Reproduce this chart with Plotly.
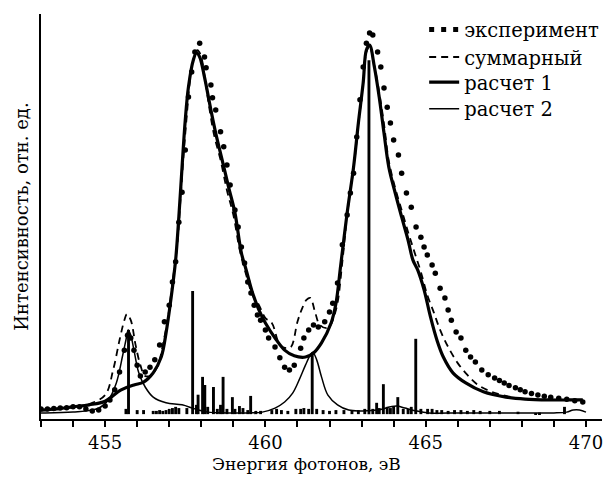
import plotly.graph_objects as go

# ---------------- data (photon energy, eV / intensity, arb. units) ----------------
exp_x = [453.0, 453.2, 453.4, 453.6, 453.8, 454.0, 454.2, 454.4, 454.6, 454.8,
         455.0, 455.15, 455.3, 455.45, 455.6, 455.7, 455.8, 455.9, 456.0, 456.1,
         456.25, 456.4, 456.55, 456.7, 456.85, 457.0, 457.1, 457.2, 457.3, 457.4,
         457.5, 457.6, 457.7, 457.8, 457.95, 458.1, 458.15, 458.3, 458.35, 458.45,
         458.6, 458.7, 458.8, 458.9, 459.05, 459.15, 459.25, 459.35, 459.45, 459.55,
         459.65, 459.75, 459.85, 460.0, 460.1, 460.3, 460.45, 460.6, 460.75, 460.9,
         461.1, 461.2, 461.35, 461.5, 461.65, 461.85, 462.0, 462.1, 462.25, 462.4,
         462.55, 462.65, 462.75, 462.85, 462.95, 463.05, 463.15, 463.25, 463.35, 463.5,
         463.6, 463.7, 463.8, 463.9, 464.0, 464.15, 464.25, 464.4, 464.55, 464.7,
         464.85, 464.95, 465.05, 465.2, 465.3, 465.45, 465.6, 465.7, 465.8, 465.95,
         466.1, 466.25, 466.4, 466.55, 466.75, 466.95, 467.15, 467.3, 467.45, 467.6,
         467.8, 467.95, 468.1, 468.3, 468.5, 468.7, 468.9, 469.15, 469.4, 469.65, 469.9]
exp_y = [2.5, 2.5, 2.6, 2.7, 2.8, 3.0, 3.0, 2.5, 2.0, 2.2,
         3.2, 4.7, 7.2, 11.6, 17.0, 20.7, 20.0, 17.0, 13.3, 10.6,
         11.6, 12.8, 14.6, 18.3, 24.0, 28.1, 33.8, 38.8, 48.6, 56.0,
         66.4, 79.5, 85.7, 90.6, 92.8, 89.4, 86.7, 82.5, 79.3, 76.3,
         70.9, 67.2, 62.7, 57.8, 51.6, 47.4, 42.5, 38.5, 33.8, 31.1,
         28.1, 25.7, 24.4, 22.0, 20.0, 17.8, 15.1, 12.8, 12.1, 13.3,
         17.5, 20.0, 22.0, 23.2, 22.7, 24.0, 26.4, 28.6, 33.6, 43.0,
         50.4, 55.8, 60.7, 69.6, 78.8, 86.9, 92.8, 95.3, 94.8, 90.6,
         86.9, 81.7, 77.0, 73.1, 68.9, 65.2, 60.7, 55.8, 52.3, 47.4,
         44.9, 42.5, 40.5, 38.0, 36.0, 32.3, 29.9, 26.9, 24.4, 21.5,
         20.0, 17.0, 15.3, 14.1, 12.1, 10.9, 10.1, 9.5, 8.9, 8.3,
         7.7, 7.2, 6.7, 6.3, 5.9, 5.6, 5.4, 5.1, 4.9, 4.5, 4.2]

sum_x = [453.0, 453.5, 454.0, 454.5, 455.0, 455.25, 455.45, 455.6, 455.68, 455.8,
         455.95, 456.1, 456.25, 456.45, 456.65, 456.8, 456.95, 457.1, 457.25, 457.35,
         457.45, 457.55, 457.65, 457.78, 457.88, 457.98, 458.1, 458.25, 458.4, 458.6,
         458.8, 459.0, 459.2, 459.4, 459.6, 459.8, 460.0, 460.2, 460.45, 460.65,
         460.8, 461.0, 461.15, 461.28, 461.4, 461.55, 461.7, 461.95, 462.2, 462.4,
         462.55, 462.75, 462.9, 463.05, 463.15, 463.25, 463.4, 463.55, 463.7, 463.85,
         464.05, 464.25, 464.45, 464.65, 464.85, 465.05, 465.25, 465.45, 465.7, 466.0,
         466.3, 466.6, 467.0, 467.5, 468.1, 468.85, 469.5, 469.9]
sum_y = [2.2, 2.5, 3.0, 3.7, 5.9, 12.1, 19.5, 24.4, 25.9, 24.4,
         18.3, 13.3, 10.6, 10.9, 13.3, 18.3, 24.4, 33.6, 43.0, 54.1,
         65.4, 75.1, 83.7, 89.4, 91.1, 89.9, 84.9, 76.8, 70.1, 64.0,
         56.5, 50.4, 41.7, 35.6, 30.6, 28.1, 24.9, 23.7, 18.3, 17.5,
         17.8, 24.0, 27.4, 29.4, 29.9, 26.4, 23.2, 22.5, 26.9, 38.8,
         50.4, 61.9, 72.6, 83.0, 90.6, 92.1, 87.2, 80.7, 72.8, 63.7,
         57.0, 51.6, 46.2, 41.2, 36.3, 30.6, 26.4, 22.0, 17.8, 13.8,
         10.9, 8.6, 6.9, 5.7, 4.9, 4.7, 4.7, 4.7]

calc1_x = [453.0, 453.5, 454.0, 454.5, 455.0, 455.5, 455.9, 456.2, 456.5, 456.75,
           456.9, 457.05, 457.2, 457.3, 457.4, 457.5, 457.6, 457.75, 457.85, 457.95,
           458.1, 458.3, 458.45, 458.65, 458.85, 459.05, 459.25, 459.4, 459.6, 459.8,
           460.0, 460.3, 460.6, 460.9, 461.25, 461.5, 461.75, 462.05, 462.2, 462.35,
           462.55, 462.75, 462.9, 463.05, 463.15, 463.25, 463.4, 463.55, 463.7, 463.85,
           464.05, 464.25, 464.45, 464.6, 464.75, 464.95, 465.15, 465.35, 465.55, 465.85,
           466.25, 466.8, 467.5, 468.1, 468.85, 469.5, 469.9]
calc1_y = [2.2, 2.5, 3.0, 3.5, 4.4, 7.2, 8.4, 9.1, 11.4, 15.3,
           21.2, 29.4, 39.3, 49.9, 62.2, 73.8, 82.0, 88.6, 90.4, 89.4,
           84.4, 76.3, 70.6, 64.0, 57.3, 50.9, 41.0, 36.8, 31.1, 26.9,
           23.7, 20.0, 17.0, 15.6, 15.3, 16.3, 18.8, 23.7, 28.5, 38.0,
           50.9, 62.2, 73.1, 83.0, 91.1, 92.3, 86.9, 79.5, 70.6, 62.2,
           55.8, 49.9, 44.2, 39.3, 36.8, 31.9, 25.2, 19.5, 15.3, 11.4,
           8.9, 6.7, 5.4, 4.9, 4.7, 4.7, 4.7]

calc2_x = [453.0, 454.0, 454.8, 455.1, 455.35, 455.55, 455.65, 455.72, 455.8, 455.9,
           456.05, 456.25, 456.5, 456.9, 457.4, 457.8, 458.2, 458.8, 459.4, 459.9,
           460.3, 460.6, 460.85, 461.05, 461.25, 461.4, 461.48, 461.6, 461.75, 461.95,
           462.25, 462.6, 463.0, 463.5, 463.9, 464.1, 464.35, 464.7, 465.1, 466.0,
           467.0, 468.0, 469.0, 469.4, 469.6, 469.8, 470.0]
calc2_y = [1.5, 1.7, 2.7, 4.7, 8.9, 15.8, 19.5, 22.0, 20.7, 17.0,
           11.4, 7.9, 5.4, 4.0, 3.5, 2.5, 1.7, 1.5, 1.5, 1.7,
           2.7, 4.2, 6.4, 9.6, 13.3, 15.8, 16.5, 14.6, 10.4, 5.9,
           3.5, 2.2, 2.0, 2.2, 3.0, 3.2, 2.7, 2.0, 1.5, 1.5,
           1.5, 1.5, 1.5, 1.7, 2.2, 2.2, 1.7]

# calculated transition lines (stick spectrum): position and top level
STICK_BASE = 1.2
stick_x = [455.73, 457.73, 458.04, 458.11, 458.38, 458.68, 458.97, 459.19, 459.54, 461.46,
           463.23, 463.47, 463.68, 464.13, 464.69, 465.06,
           455.65, 456.0, 456.2, 456.5, 456.6, 456.7, 456.8, 456.9, 457.0, 457.1,
           457.2, 457.3, 457.55, 457.85, 457.9, 458.2, 458.5, 458.6, 458.8, 459.05,
           459.3, 459.45, 459.7, 459.85, 460.2, 460.35, 460.5, 460.7, 460.95, 461.1,
           461.2, 461.35, 461.6, 461.8, 462.0, 462.2, 462.45, 462.7, 462.9, 463.1,
           463.35, 463.55, 463.8, 463.9, 464.0, 464.3, 464.45, 464.55, 464.85, 465.2,
           465.35, 465.5, 465.7, 465.9, 466.1, 466.3, 466.5, 466.7, 467.0, 467.3,
           467.88, 468.43, 468.55, 469.33]
stick_top = [22.0, 31.6, 10.4, 8.4, 7.9, 10.4, 5.4, 3.2, 5.7, 16.3,
             88.6, 4.0, 8.6, 5.4, 19.8, 2.5,
             2.5, 2.2, 2.2, 2.0, 2.0, 2.2, 2.0, 2.2, 2.5, 2.7,
             3.0, 2.7, 2.7, 3.5, 6.0, 3.0, 2.5, 3.5, 2.5, 2.5,
             2.7, 2.2, 2.0, 2.0, 2.2, 2.5, 2.2, 2.0, 2.5, 2.5,
             2.7, 2.5, 2.5, 2.2, 2.0, 2.2, 2.2, 2.0, 2.2, 2.5,
             2.5, 2.7, 3.0, 2.7, 3.0, 2.5, 2.5, 3.0, 2.5, 2.5,
             2.2, 2.2, 2.0, 2.2, 2.2, 2.0, 2.2, 2.0, 2.0, 2.0,
             1.8, 1.5, 1.6, 3.0]

x_tickvals = [455, 460, 465, 470]
names = ["эксперимент", "суммарный", "расчет 1", "расчет 2"]
x_title = "Энергия фотонов, эВ"
y_title = "Интенсивность, отн. ед."

# ---------------- figure ----------------
FONT = "DejaVu Serif"
FS = 18
FS_LEG = 19.5
FS_XT = 17
fig = go.Figure()

fig.add_trace(go.Bar(
    x=stick_x, y=[t - STICK_BASE for t in stick_top], base=STICK_BASE,
    width=0.09, marker=dict(color="black", line=dict(width=0)),
    showlegend=False, hoverinfo="skip"))

fig.add_trace(go.Scatter(
    x=exp_x, y=exp_y, mode="markers",
    marker=dict(color="black", size=5.5), showlegend=False))
# legend sample for the experiment (dotted)
fig.add_trace(go.Scatter(
    x=[None], y=[None], mode="lines", name=names[0], legend="legend",
    line=dict(color="black", width=5, dash="5px,7px")))

fig.add_trace(go.Scatter(
    x=sum_x, y=sum_y, mode="lines", name=names[1], line_shape="spline",
    legend="legend2", line=dict(color="black", width=1.8, dash="7px,5px")))
fig.add_trace(go.Scatter(
    x=calc1_x, y=calc1_y, mode="lines", name=names[2], line_shape="spline",
    legend="legend3", line=dict(color="black", width=3.2)))
fig.add_trace(go.Scatter(
    x=calc2_x, y=calc2_y, mode="lines", name=names[3], line_shape="spline",
    legend="legend4", line=dict(color="black", width=1.5)))

def leg(yc):
    return dict(x=0.683, y=yc, xanchor="left", yanchor="middle",
                bgcolor="rgba(0,0,0,0)", font=dict(size=FS_LEG, family=FONT, color="black"))

fig.update_layout(
    width=608, height=477,
    margin=dict(l=41, r=4, t=14, b=58),
    paper_bgcolor="white", plot_bgcolor="white",
    font=dict(family=FONT, size=FS, color="black"),
    barmode="overlay",
    legend=leg(0.961), legend2=leg(0.893), legend3=leg(0.831), legend4=leg(0.765),
    xaxis=dict(range=[453, 470.5], showgrid=False, zeroline=False,
               showline=True, linecolor="black", linewidth=2,
               tickvals=x_tickvals, ticks="outside", ticklen=6, tickwidth=2,
               tickcolor="black", tickfont=dict(size=FS, family=FONT, color="black"),
               minor=dict(dtick=1, tick0=453, ticks="outside", ticklen=6,
                          tickwidth=2, tickcolor="black")),
    yaxis=dict(range=[0, 100], showgrid=False, zeroline=False,
               showline=True, linecolor="black", linewidth=2,
               showticklabels=False, ticks="",
               title=dict(text=y_title, font=dict(size=FS, family=FONT, color="black"),
                          standoff=6)),
    annotations=[dict(text=x_title, xref="paper", yref="paper",
                      x=0.4725, y=-0.1407, xanchor="center", yanchor="bottom",
                      showarrow=False, font=dict(size=FS_XT, family=FONT, color="black"))],
)

fig.write_html("out.html")
